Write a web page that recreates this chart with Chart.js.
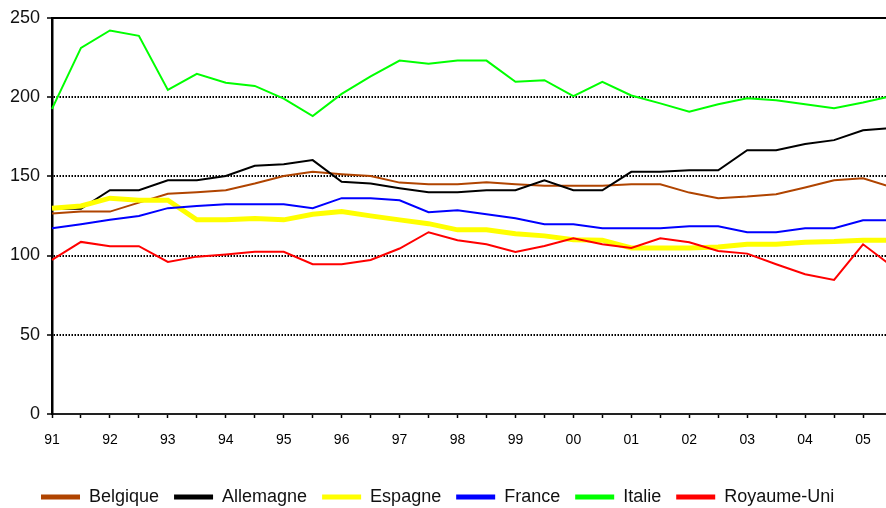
<!DOCTYPE html>
<html>
<head>
<meta charset="utf-8">
<script src="https://cdn.jsdelivr.net/npm/chart.js@4/dist/chart.umd.min.js"></script>
<style>
  html, body { margin: 0; padding: 0; background: #fff; overflow: hidden; }
  #wrap { position: absolute; left: 0; top: 0; width: 892px; height: 516px; }
</style>
</head>
<body>
<div id="wrap"><canvas id="chart" width="892" height="516"></canvas></div>
<script>
// semi-annual points, year label on the first half only
const years = ['91', '92', '93', '94', '95', '96', '97', '98', '99', '00', '01', '02', '03', '04', '05'];
const periods = [];
years.forEach(function(y) { periods.push(y); periods.push(''); });

const yTicks = [0, 50, 100, 150, 200, 250];

const belgique = [126.5, 127.7, 127.7, 133.4, 139, 140, 141.2, 145.4, 150.2, 152.8, 151.3, 150.2, 146, 145, 145,
  146.3, 145, 144, 144, 144, 145, 145, 139.7, 136.2, 137.2, 138.7, 142.9, 147.5, 148.8, 143];
const allemagne = [129.5, 129.5, 141.2, 141.2, 147.5, 147.5, 150.2, 156.6, 157.6, 160.2, 146.5, 145.4, 142.5, 140, 140,
  141.2, 141.2, 147.5, 141.2, 141.2, 152.8, 152.8, 153.8, 153.8, 166.5, 166.5, 170.3, 172.8, 179, 180.5];
const espagne = [129.9, 131.3, 136.2, 134.9, 134.9, 122.5, 122.5, 123.3, 122.5, 126, 127.7, 125, 122.5, 120.1, 116.2,
  116.2, 113.8, 112.4, 110, 109.7, 104.8, 104.8, 104.8, 105.4, 107.1, 107.1, 108.4, 108.8, 109.7, 109.7];
const france = [117.2, 119.8, 122.5, 125, 129.9, 131.3, 132.4, 132.4, 132.4, 129.9, 136.2, 136.2, 134.9, 127.3, 128.6,
  126.1, 123.5, 119.8, 119.8, 117.2, 117.2, 117.2, 118.5, 118.5, 114.7, 114.7, 117.2, 117.2, 122.3, 122.3];
const italie = [192.5, 231, 242, 238.6, 204.5, 214.6, 209, 207, 199, 188, 202, 213, 223, 221, 223,
  223, 209.6, 210.6, 200.6, 209.6, 201, 196, 190.7, 195.5, 199.3, 198, 195.5, 193, 196.5, 200.6];
const royaumeUni = [97.2, 108.6, 105.9, 105.9, 96, 99.3, 100.6, 102.3, 102.3, 94.5, 94.5, 97.2, 104.4, 114.7, 109.7,
  107.1, 102.3, 106, 110.9, 107.1, 104.8, 110.9, 108.4, 102.9, 101.2, 94.5, 88.2, 84.6, 107.1, 93.3];

const seriesNames = ['Belgique', 'Allemagne', 'Espagne', 'France', 'Italie', 'Royaume-Uni'];
const seriesData = [belgique, allemagne, espagne, france, italie, royaumeUni];
const seriesColors = ['#b04400', '#000000', '#ffff00', '#0000ff', '#00ff00', '#ff0000'];
const seriesWidths = [2, 2, 5, 2, 2, 2];

const FONT = "'Liberation Sans', Arial, sans-serif";

const datasets = seriesNames.map(function(name, i) {
  return {
    label: name,
    data: seriesData[i],
    borderColor: seriesColors[i],
    backgroundColor: seriesColors[i],
    borderWidth: seriesWidths[i],
    pointRadius: 0,
    tension: 0,
    fill: false,
    order: seriesNames.length - i   // later series drawn on top, like Excel
  };
});

// legend sits a bit right of the canvas edge in the original
const legendShift = {
  id: 'legendShift',
  afterLayout: function(chart) {
    if (chart.legend) chart.legend.left += 26;
  }
};

new Chart(document.getElementById('chart'), {
  type: 'line',
  data: { labels: periods, datasets: datasets },
  plugins: [legendShift],
  options: {
    responsive: false,
    animation: false,
    devicePixelRatio: 1,
    layout: { padding: { left: 0, top: 17, right: 0, bottom: 0 } },
    plugins: {
      tooltip: { enabled: false },
      legend: {
        position: 'bottom',
        align: 'start',
        labels: {
          font: { family: FONT, size: 18 },
          color: '#111',
          boxWidth: 39,
          boxHeight: 5,
          padding: 15,
          sort: function(a, b) { return a.datasetIndex - b.datasetIndex; },
          generateLabels: function(chart) {
            const items = Chart.defaults.plugins.legend.labels.generateLabels(chart);
            items.forEach(function(it) { it.lineWidth = 0; it.fillStyle = it.strokeStyle; });
            return items;
          }
        }
      }
    },
    scales: {
      x: {
        type: 'category',
        offset: false,
        afterFit: function(scale) { scale.height = 59; scale.paddingRight = 0; scale.paddingLeft = 0; },
        grid: { display: true, drawOnChartArea: false, drawTicks: true, tickLength: 4, tickColor: '#000', tickWidth: 1.5 },
        border: { display: true, color: '#222', width: 2 },
        ticks: {
          autoSkip: false,
          maxRotation: 0,
          minRotation: 0,
          padding: 14,
          color: '#000',
          font: { family: FONT, size: 14 }
        }
      },
      xTop: {
        type: 'category',
        position: 'top',
        offset: false,
        afterFit: function(scale) { scale.height = 0; scale.paddingRight = 0; scale.paddingLeft = 0; },
        grid: { display: false },
        ticks: { display: false },
        border: { display: true, color: '#000', width: 2 }
      },
      y: {
        min: 0,
        max: 250,
        afterFit: function(scale) { scale.width = 52; },
        afterBuildTicks: function(scale) { scale.ticks = yTicks.map(function(v) { return { value: v }; }); },
        grid: {
          color: function(ctx) {
            return (ctx.tick && (ctx.tick.value === 0 || ctx.tick.value === 250)) ? 'rgba(0,0,0,0)' : '#000';
          },
          lineWidth: 2,
          drawTicks: true,
          tickLength: 5,
          tickColor: '#000',
          tickWidth: 1.5,
          tickBorderDash: []
        },
        border: { display: true, color: '#000', width: 2.5, dash: [1.5, 1.5] },
        ticks: {
          padding: 7,
          color: '#111',
          font: { family: FONT, size: 18 }
        }
      }
    }
  }
});
</script>
</body>
</html>
